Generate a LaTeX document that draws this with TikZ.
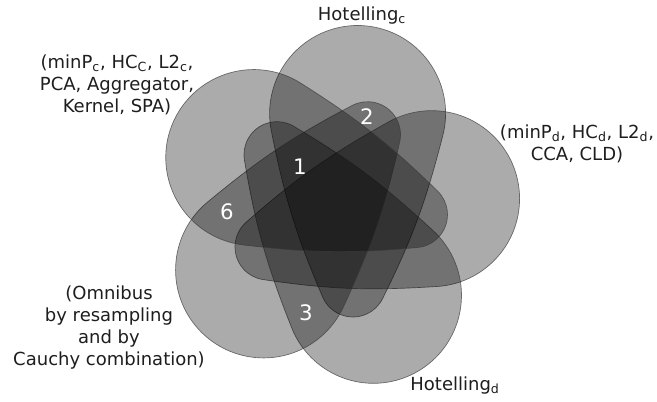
\documentclass[tikz,border=0pt]{standalone}
\usepackage{fontspec}
\setmainfont{DejaVu Sans}
\usepackage{xcolor}
\usepackage{tikz}
\definecolor{VNText}{HTML}{1E1E1E}
\definecolor{VNLine}{HTML}{3A3A3A}

\begin{document}
\begin{tikzpicture}[x=0.75pt,y=0.75pt,
  vset/.style={fill=black,fill opacity=0.33,draw=VNLine,draw opacity=0.7,line width=0.5pt},
  vlabel/.style={text=VNText,align=center,font=\fontsize{13.5}{16.5}\selectfont},
  vcount/.style={text=white,font=\fontsize{16}{18}\selectfont}]
\fill[white] (-336,-195) rectangle (321,207);
\useasboundingbox (-336,-195) rectangle (321,207);
\foreach \r in {0,-72,-144,-216,-288}
  \path[vset,rotate=\r] (106.85,71.69) arc[start angle=-14.35,end angle=191.25,radius=88]
    .. controls (-51.44,9.64) and (-40.16,-27.55) .. (-13.32,-90.03)
    arc[start angle=203.25,end angle=333.65,radius=33]
    .. controls (76.76,-30.72) and (90.0,5.81) .. (106.85,71.69) -- cycle;
\node[vlabel] (hotc) at (26,191) {Hotelling\textsubscript{c}};
\node[vlabel] (mpc) at (-219,122) {(minP\textsubscript{c}, HC\textsubscript{C}, L2\textsubscript{c},\\PCA, Aggregator,\\Kernel, SPA)};
\node[vlabel] (mpd) at (241,63) {(minP\textsubscript{d}, HC\textsubscript{d}, L2\textsubscript{d},\\CCA, CLD)};
\node[vlabel] (omni) at (-227,-120.5) {(Omnibus\\by resampling\\and by\\Cauchy combination)};
\node[vlabel] (hotd) at (119,-179) {Hotelling\textsubscript{d}};
\node[vcount] (n1) at (-36,40) {1};
\node[vcount] (n2) at (31,90) {2};
\node[vcount] (n3) at (-30,-106) {3};
\node[vcount] (n6) at (-109,-5) {6};
\end{tikzpicture}
\end{document}
